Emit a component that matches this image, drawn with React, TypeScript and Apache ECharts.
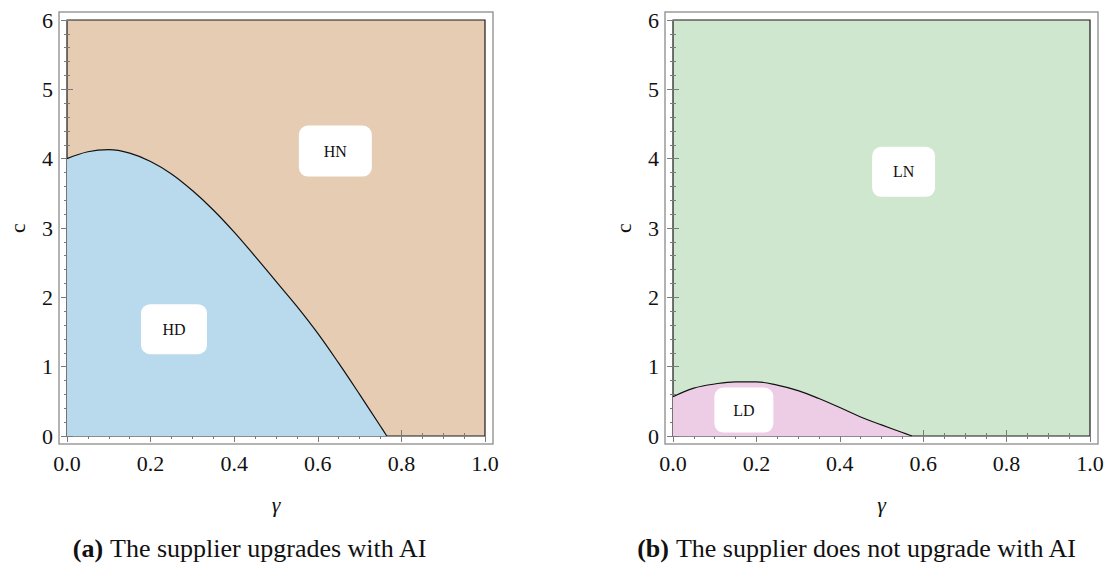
import React, { useEffect, useRef } from "react";
import * as echarts from "echarts";

// Panel (a): boundary between HD (below) and HN (above)
const gammaA = [0, 0.05, 0.1, 0.15, 0.2, 0.25, 0.3, 0.35, 0.4, 0.45, 0.5, 0.55, 0.6, 0.65, 0.7, 0.75, 0.765];
const cA = [4.0, 4.1, 4.13, 4.08, 3.96, 3.78, 3.54, 3.26, 2.94, 2.59, 2.23, 1.87, 1.48, 1.05, 0.6, 0.14, 0];

// Panel (b): boundary between LD (below) and LN (above)
const gammaB = [0, 0.05, 0.1, 0.15, 0.2, 0.25, 0.3, 0.35, 0.4, 0.45, 0.5, 0.55, 0.573];
const cB = [0.565, 0.69, 0.75, 0.78, 0.78, 0.735, 0.655, 0.54, 0.41, 0.275, 0.16, 0.05, 0];

// Region labels: [gamma, c, text]
const labelsA: [number, number, string][] = [
  [0.642, 4.11, "HN"],
  [0.256, 1.54, "HD"],
];
const labelsB: [number, number, string][] = [
  [0.553, 3.81, "LN"],
  [0.17, 0.374, "LD"],
];
const boxA = [[73, 51], [66, 50]];
const boxB = [[63, 50], [59, 45]];

const xTicks = [0, 0.2, 0.4, 0.6, 0.8, 1.0];
const yTicks = [0, 1, 2, 3, 4, 5, 6];

const captions = ["The supplier upgrades with AI", "The supplier does not upgrade with AI"];
const captionTags = ["(a)", "(b)"];
const captionCenters = [250, 857];

const FONT = "Liberation Serif";

const grids = [
  { left: 67, top: 20, width: 418, height: 416 },
  { left: 673, top: 20, width: 417, height: 416 },
];
const colors = [
  { bg: "#E5CCB2", fill: "#B9D9EC" },
  { bg: "#CFE6CF", fill: "#ECCDE5" },
];

export default function App() {
  const ref = useRef<HTMLDivElement>(null);
  useEffect(() => {
    if (!ref.current) return;
    const chart = echarts.init(ref.current, undefined, { renderer: "svg" });
    const tickColor = "#7a7a7a";
    const xAxes: any[] = [];
    const yAxes: any[] = [];
    grids.forEach((_, gi) => {
      ["bottom", "top"].forEach((pos) => {
        xAxes.push({
          gridIndex: gi,
          type: "value",
          min: xTicks[0],
          max: xTicks[xTicks.length - 1],
          interval: 0.2,
          position: pos,
          offset: 8,
          axisLine: { show: false },
          axisTick: { show: true, inside: true, length: 6, lineStyle: { color: tickColor, width: 1 } },
          minorTick: { show: true, splitNumber: 4, length: 3, lineStyle: { color: tickColor, width: 1 } },
          splitLine: { show: false },
          minorSplitLine: { show: false },
          axisLabel: {
            show: pos === "bottom",
            margin: 8,
            fontSize: 22,
            fontFamily: FONT,
            color: "#111",
            formatter: (v: number) => v.toFixed(1),
          },
          name: pos === "bottom" ? "γ" : "",
          nameLocation: "middle",
          nameGap: 49,
          nameTextStyle: { fontSize: 22, fontFamily: FONT, fontStyle: "italic", color: "#111" },
        });
      });
      ["left", "right"].forEach((pos) => {
        yAxes.push({
          gridIndex: gi,
          type: "value",
          min: yTicks[0],
          max: yTicks[yTicks.length - 1],
          interval: 1,
          position: pos,
          offset: 8,
          axisLine: { show: false },
          axisTick: { show: true, inside: true, length: 6, lineStyle: { color: tickColor, width: 1 } },
          minorTick: { show: true, splitNumber: 5, length: 3, lineStyle: { color: tickColor, width: 1 } },
          splitLine: { show: false },
          minorSplitLine: { show: false },
          axisLabel: {
            show: pos === "left",
            margin: 6,
            fontSize: 22,
            fontFamily: FONT,
            color: "#111",
          },
          name: pos === "left" ? "c" : "",
          nameLocation: "middle",
          nameGap: 31,
          nameTextStyle: { fontSize: 22, fontFamily: FONT, color: "#111" },
        });
      });
    });

    const curveSeries = (gi: number, xs: number[], ys: number[]) => ({
      type: "line",
      xAxisIndex: gi * 2,
      yAxisIndex: gi * 2,
      data: xs.map((x, i) => [x, ys[i]]),
      smooth: 0.4,
      showSymbol: false,
      symbol: "none",
      lineStyle: { color: "#111", width: 1.2 },
      areaStyle: { color: colors[gi].fill, opacity: 1, origin: "start" },
      z: 2,
      silent: true,
    });

    const labelSeries = (gi: number, labels: [number, number, string][], boxes: number[][]) => ({
      type: "scatter",
      xAxisIndex: gi * 2,
      yAxisIndex: gi * 2,
      symbolSize: 0,
      itemStyle: { opacity: 1 },
      z: 5,
      silent: true,
      data: labels.map((l, i) => ({
        value: [l[0], l[1]],
        label: {
          show: true,
          position: "inside",
          formatter: l[2],
          backgroundColor: "#ffffff",
          borderRadius: 9,
          width: boxes[i][0],
          height: boxes[i][1],
          lineHeight: boxes[i][1],
          align: "center",
          verticalAlign: "middle",
          fontSize: 16,
          fontFamily: FONT,
          color: "#111",
          opacity: 1,
        },
      })),
    });

    const graphics: any[] = [];
    grids.forEach((g, gi) => {
      graphics.push({
        type: "rect",
        shape: { x: g.left - 8, y: g.top - 8, width: g.width + 16, height: g.height + 16 },
        style: { fill: "none", stroke: "#9a9a9a", lineWidth: 1.5 },
        z: 10,
        silent: true,
      });
      graphics.push({
        type: "text",
        x: captionCenters[gi],
        y: 548,
        style: {
          text: `{b|${captionTags[gi]}} ${captions[gi]}`,
          rich: {
            b: { fontWeight: "bold", fontSize: 26, fontFamily: FONT, fill: "#111" },
          },
          fontSize: 26,
          fontFamily: FONT,
          fill: "#111",
          align: "center",
          verticalAlign: "middle",
        },
      });
    });

    chart.setOption({
      animation: false,
      backgroundColor: "#ffffff",
      grid: grids.map((g, gi) => ({
        ...g,
        show: true,
        backgroundColor: colors[gi].bg,
        borderColor: "#1a1a1a",
        borderWidth: 1.2,
      })),
      xAxis: xAxes,
      yAxis: yAxes,
      series: [
        curveSeries(0, gammaA, cA),
        curveSeries(1, gammaB, cB),
        labelSeries(0, labelsA, boxA),
        labelSeries(1, labelsB, boxB),
      ],
      graphic: graphics,
    });
    return () => chart.dispose();
  }, []);
  return (
    <div
      ref={ref}
      style={{ position: "absolute", left: 0, top: 0, width: 1109, height: 567 }}
    />
  );
}
